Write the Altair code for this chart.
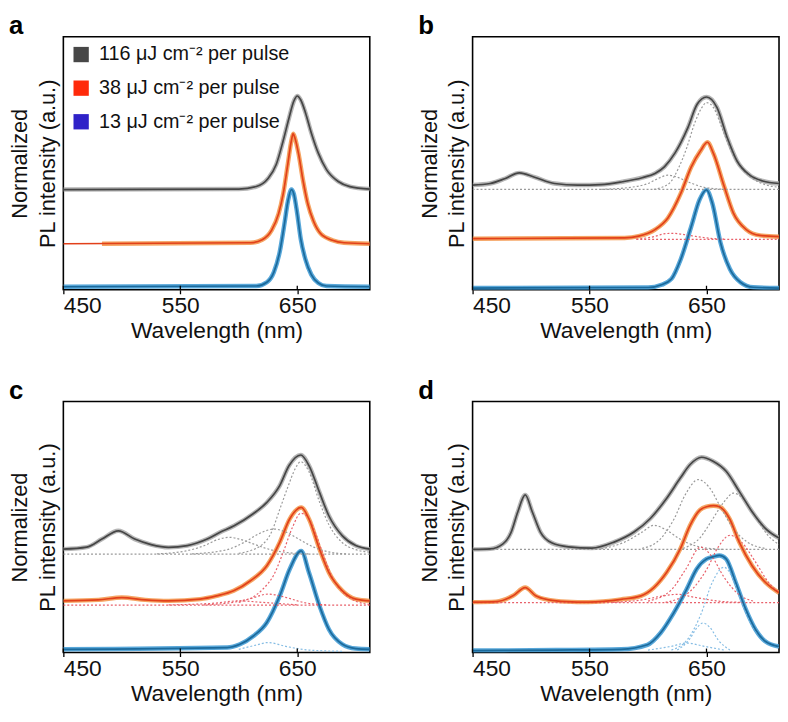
import altair as alt
import pandas as pd

X_DOMAIN = [450, 712]
TICKS = [450, 550, 650]
Y_TITLE = ["Normalized", "PL intensity (a.u.)"]
X_TITLE = "Wavelength (nm)"

legend_labels = [
    "116 \u03bcJ cm\u207b\u00b2 per pulse",
    "38 \u03bcJ cm\u207b\u00b2 per pulse",
    "13 \u03bcJ cm\u207b\u00b2 per pulse",
]
legend_colors = ["#474747", "#ff2a0a", "#2f22c8"]

# colours: (raw, fit, component)
GRAY = ("#a9a9a9", "#454545", "#9a9a9a")
ORANGE = ("#f39448", "#e2401a", "#e8606a")
BLUE = ("#3b98d2", "#1b6a9c", "#86bde4")

# ---------------- panel a ----------------
a_gray = [(450, .396), (600, .398), (615, .408), (625, .44), (632, .495), (638, .59), (643, .68),
          (647, .745), (650, .766), (653, .75), (657, .70), (662, .62), (668, .54), (675, .475),
          (685, .428), (695, .408), (712, .398)]
a_orange = [(450, .182), (610, .186), (620, .198), (628, .235), (634, .30), (638, .38), (642, .50),
            (645, .59), (646.5, .617), (648, .60), (651, .54), (655, .43), (659, .34), (664, .27),
            (670, .222), (680, .196), (690, .186), (712, .182)]
a_orange_raw = [(483, .182)] + a_orange[1:]
a_blue = [(450, .012), (615, .015), (624, .03), (630, .07), (635, .15), (639, .26), (642, .35),
          (645, .396), (647, .38), (650, .30), (653, .20), (657, .12), (662, .06), (668, .027),
          (675, .015), (712, .012)]

# ---------------- panel b ----------------
b_gray = [(450, .414), (465, .42), (478, .44), (490, .462), (503, .445), (520, .42), (540, .414),
          (560, .416), (578, .427), (595, .443), (606, .46), (614, .486), (623, .54), (634, .64),
          (642, .733), (650, .762), (659, .72), (667.6, .603), (676, .51), (687, .453), (698, .43),
          (712, .42)]
b_gray_base = [(450, .397), (712, .397)]
b_gray_c1 = [(560, .397), (585, .405), (600, .42), (610, .443), (617, .453), (625, .445), (635, .425),
             (648, .405), (665, .397)]
b_gray_c2 = [(605, .397), (618, .42), (626, .48), (633, .56), (640, .66), (646, .72), (650, .74),
             (656, .72), (664, .63), (672, .54), (682, .47), (695, .425), (712, .405)]
b_orange = [(450, .202), (580, .205), (592, .212), (606, .238), (617, .284), (628, .381), (637, .486),
            (645, .55), (650.8, .583), (656, .538), (665, .41), (673, .303), (684, .238),
            (695.6, .215), (712, .21)]
b_orange_base = [(590, .199), (712, .199)]
b_orange_c1 = [(590, .2), (605, .21), (615, .222), (622, .223), (635, .215), (650, .205), (665, .2)]
b_blue = [(450, .007), (600, .009), (611.6, .02), (620, .043), (628, .121), (637, .251), (644, .355),
          (650, .395), (655, .342), (662, .186), (670, .082), (679, .03), (690, .01), (712, .007)]

# ---------------- panel c ----------------
c_gray = [(450, .412), (470, .42), (483, .452), (497, .485), (511, .452), (525, .43), (540, .419),
          (556, .426), (573, .452), (584, .479), (596, .505), (612, .552), (624, .598), (635, .665),
          (643, .745), (653, .787), (660, .745), (669, .638), (677, .545), (688.6, .465), (700, .426),
          (712, .412)]
c_gray_base = [(450, .392), (712, .392)]
c_gray_c1 = [(530, .393), (555, .405), (570, .425), (582, .45), (592, .459), (602, .45), (614, .43),
             (627, .41), (642, .398), (660, .393)]
c_gray_c2 = [(560, .393), (590, .41), (605, .44), (618, .475), (630, .492), (640, .48), (652, .45),
             (664, .42), (678, .40), (692, .393)]
c_gray_c3 = [(600, .395), (620, .43), (628, .48), (635, .57), (642, .66), (648, .73), (653, .76),
             (660, .72), (669, .60), (677, .51), (688, .44), (700, .41), (712, .40)]
c_orange = [(450, .206), (480, .21), (500, .219), (520, .21), (540, .206), (567, .213), (581, .226),
            (595.6, .246), (610, .286), (624, .346), (635, .439), (643.5, .532), (653.4, .578),
            (660, .532), (669, .412), (677, .319), (688.6, .246), (700, .213), (712, .206)]
c_orange_base = [(450, .189), (712, .189)]
c_orange_c1 = [(570, .19), (595, .20), (610, .215), (625, .233), (640, .22), (655, .20), (675, .19)]
c_orange_c2 = [(540, .19), (580, .197), (600, .206), (620, .20), (650, .19)]
c_orange_c3 = [(600, .20), (620, .25), (630, .31), (638, .40), (646, .50), (653, .555), (659, .54),
               (666, .47), (673, .38), (681, .29), (690, .235), (700, .205), (712, .192)]
c_blue = [(450, .013), (590, .02), (601, .033), (612.5, .066), (624, .12), (635, .226), (643.5, .332),
          (653.4, .405), (660, .319), (669, .186), (677, .093), (688.6, .033), (700, .016), (712, .013)]
c_blue_c1 = [(600, .013), (615, .03), (625, .04), (640, .025), (660, .01), (690, .005)]

# ---------------- panel d ----------------
d_gray = [(450, .411), (465, .413), (476, .433), (483, .48), (488.7, .561), (495, .628), (501, .561),
          (508, .48), (518, .436), (532, .421), (552, .416), (571, .44), (588, .48), (602, .534),
          (616, .615), (627.6, .695), (636, .749), (645.8, .778), (655.6, .762), (666.8, .722),
          (678, .642), (689, .561), (700.5, .494), (712, .456)]
d_gray_base = [(450, .411), (712, .411)]
d_gray_c1 = [(560, .413), (580, .44), (595, .48), (605, .507), (615, .49), (628, .45), (645, .42),
             (665, .411)]
d_gray_c2 = [(595, .415), (610, .45), (622, .53), (632, .63), (643, .689), (652, .66), (662, .58),
             (672, .5), (685, .44), (700, .415)]
d_gray_c3 = [(630, .415), (645, .46), (655, .53), (665, .60), (673, .635), (682, .61), (692, .54),
             (702, .47), (712, .43)]
d_orange = [(450, .201), (470, .203), (484.5, .226), (495, .259), (504, .226), (515, .21), (530, .203),
            (549, .201), (577, .212), (594, .226), (605, .259), (616, .32), (627.6, .413), (636, .507),
            (644.5, .568), (650, .581), (656, .585), (661, .581), (669.6, .534), (678, .44),
            (689, .346), (700.5, .279), (712, .238)]
d_orange_base = [(450, .199), (712, .199)]
d_orange_c1 = [(570, .2), (595, .21), (612, .225), (625, .232), (640, .22), (660, .205), (680, .2)]
d_orange_c2 = [(600, .205), (620, .25), (632, .33), (645, .42), (655, .38), (665, .3), (678, .23),
               (690, .205)]
d_orange_c3 = [(615, .2), (635, .24), (650, .33), (660, .42), (670, .467), (680, .44), (692, .36),
               (703, .28), (712, .24)]
d_blue = [(450, .008), (521, .01), (577, .013), (599.5, .031), (610.7, .078), (622, .158), (633, .252),
          (641.6, .333), (650, .373), (656, .382), (661, .387), (666.8, .373), (675, .279),
          (683.6, .172), (692, .091), (700.5, .044), (712, .024)]
d_blue_c1 = [(600, .01), (620, .025), (633, .038), (648, .025), (665, .01)]
d_blue_c2 = [(625, .01), (635, .05), (642, .1), (647, .118), (653, .1), (660, .05), (670, .01)]
d_blue_c3 = [(620, .01), (635, .06), (645, .15), (655, .28), (665, .34), (672, .3), (680, .2),
             (690, .1), (700, .05), (712, .02)]

PANELS = {
    "a": dict(spectra=[(a_gray, a_gray, GRAY), (a_orange_raw, a_orange, ORANGE), (a_blue, a_blue, BLUE)],
              comps=[]),
    "b": dict(spectra=[(b_gray, b_gray, GRAY), (b_orange, b_orange, ORANGE), (b_blue, b_blue, BLUE)],
              comps=[(b_gray_base, GRAY), (b_gray_c1, GRAY), (b_gray_c2, GRAY),
                     (b_orange_base, ORANGE), (b_orange_c1, ORANGE)]),
    "c": dict(spectra=[(c_gray, c_gray, GRAY), (c_orange, c_orange, ORANGE), (c_blue, c_blue, BLUE)],
              comps=[(c_gray_base, GRAY), (c_gray_c1, GRAY), (c_gray_c2, GRAY), (c_gray_c3, GRAY),
                     (c_orange_base, ORANGE), (c_orange_c1, ORANGE), (c_orange_c2, ORANGE),
                     (c_orange_c3, ORANGE), (c_blue_c1, BLUE)]),
    "d": dict(spectra=[(d_gray, d_gray, GRAY), (d_orange, d_orange, ORANGE), (d_blue, d_blue, BLUE)],
              comps=[(d_gray_base, GRAY), (d_gray_c1, GRAY), (d_gray_c2, GRAY), (d_gray_c3, GRAY),
                     (d_orange_base, ORANGE), (d_orange_c1, ORANGE), (d_orange_c2, ORANGE),
                     (d_orange_c3, ORANGE), (d_blue_c1, BLUE), (d_blue_c2, BLUE), (d_blue_c3, BLUE)]),
}

FONT = "Liberation Sans"
W = 310

X = alt.X("nm:Q", scale=alt.Scale(domain=X_DOMAIN, nice=False, zero=False),
          axis=alt.Axis(values=TICKS, title=X_TITLE, grid=False, domain=False, tickSize=4,
                        tickColor="black", tickWidth=1.3, labelFontSize=23, titleFontSize=23,
                        labelPadding=1, titlePadding=2, titleFontWeight="normal",
                        labelColor="#111111", titleColor="#111111", labelFont=FONT, titleFont=FONT))
Y = alt.Y("v:Q", scale=alt.Scale(domain=[0, 1], nice=False, zero=False),
          axis=alt.Axis(title=Y_TITLE, labels=False, ticks=False, domain=False, grid=False,
                        titleFontSize=22, titleLineHeight=28, titlePadding=4,
                        titleFontWeight="normal", titleColor="#111111", titleFont=FONT))


def line(points, color, width, dash=None, opacity=1.0):
    df = pd.DataFrame(points, columns=["nm", "v"])
    kw = dict(color=color, strokeWidth=width, interpolate="monotone", clip=True, opacity=opacity)
    if dash:
        kw["strokeDash"] = dash
    return alt.Chart(df).mark_line(**kw).encode(x=X, y=Y)


def panel(letter, height):
    spec = PANELS[letter]
    layers = []
    for raw, fit, col in spec["spectra"]:
        layers.append(line(raw, col[0], 4.5, opacity=0.85))
    for comp, col in spec["comps"]:
        layers.append(line(comp, col[2], 1.2, dash=[2, 2]))
    for raw, fit, col in spec["spectra"]:
        layers.append(line(fit, col[1], 1.7))
    tick_df = pd.DataFrame({"nm": TICKS})
    layers.append(alt.Chart(tick_df).mark_rule(color="black", strokeWidth=1.3).encode(
        x="nm:Q", y=alt.datum(0), y2=alt.datum(0.016)))
    if letter == "a":
        leg_df = pd.DataFrame({"label": legend_labels})
        layers.append(alt.Chart(leg_df).mark_square(opacity=0, size=1).encode(
            color=alt.Color("label:N", scale=alt.Scale(domain=legend_labels, range=legend_colors),
                            legend=alt.Legend(title=None, orient="top-left", offset=8,
                                              symbolType="square", symbolSize=240,
                                              symbolOpacity=1, symbolStrokeWidth=0,
                                              labelFontSize=20, labelColor="#111111", labelFont=FONT,
                                              rowPadding=14, labelOffset=8, padding=0,
                                              labelLimit=400))))
    return alt.layer(*layers).properties(
        width=W, height=height,
        title=alt.TitleParams(text=letter, anchor="start", fontSize=26, fontWeight="bold",
                              offset=-2, color="black", font=FONT, frame="bounds"))


row1 = alt.hconcat(panel("a", 256), panel("b", 256), spacing=47)
row2 = alt.hconcat(panel("c", 254), panel("d", 254), spacing=47)
chart = alt.vconcat(row1, row2, spacing=34).properties(padding=0).configure(
    font=FONT).configure_view(stroke="black", strokeWidth=1.6)

chart.save("out.html", embed_options={"renderer": "svg", "actions": False})
